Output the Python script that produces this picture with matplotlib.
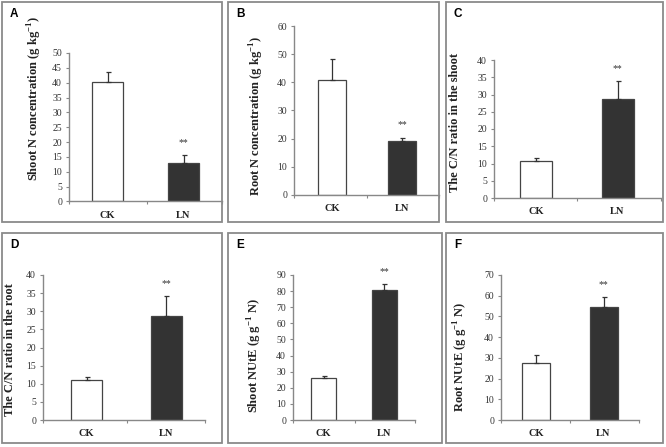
import matplotlib
matplotlib.use('Agg')
import matplotlib.pyplot as plt
from matplotlib.patches import Rectangle
from matplotlib.ticker import MultipleLocator

plt.rcParams['font.family'] = ['Liberation Serif', 'DejaVu Serif']
plt.rcParams['mathtext.fontset'] = 'custom'
plt.rcParams['mathtext.rm'] = 'Liberation Serif'
plt.rcParams['mathtext.bf'] = 'Liberation Serif:bold'

categories = ['CK', 'LN']
panel_letters = ['A', 'B', 'C', 'D', 'E', 'F']
ylabels = [
    r'Shoot N concentration (g kg$^{\mathbf{-1}}$)',
    r'Root N concentration (g kg$^{\mathbf{-1}}$)',
    'The C/N ratio in the shoot',
    'The C/N ratio in the root',
    r'Shoot NUtE (g g$^{\mathbf{-1}}$ N)',
    r'Root NUtE (g g$^{\mathbf{-1}}$ N)',
]
shoot_n = [40.3, 13.0]
shoot_n_err = [3.2, 2.5]
root_n = [41.0, 19.0]
root_n_err = [7.2, 1.4]
cn_shoot = [10.8, 28.7]
cn_shoot_err = [0.9, 5.3]
cn_root = [11.0, 28.6]
cn_root_err = [0.8, 5.5]
shoot_nute = [25.8, 80.7]
shoot_nute_err = [1.7, 3.5]
root_nute = [27.5, 54.6]
root_nute_err = [3.8, 4.6]
y_max = [50, 60, 40, 40, 90, 70]
y_step = [5, 10, 5, 5, 10, 10]

values = [shoot_n, root_n, cn_shoot, cn_root, shoot_nute, root_nute]
errors = [shoot_n_err, root_n_err, cn_shoot_err, cn_root_err, shoot_nute_err, root_nute_err]

W, H = 666, 447
fig = plt.figure(figsize=(W / 100, H / 100), dpi=100)

# layout in pixels: frame box, axis left/right, CK/LN centres, mid tick, y top/bottom, bar width
frames = [(2, 2, 222, 222), (228, 2, 439, 222), (446, 2, 663, 222),
          (2, 233, 222, 443), (228, 233, 442, 443), (446, 233, 663, 443)]
axis_x = [(69, 222), (294, 439), (494, 661), (43, 205), (293, 415), (501, 639)]
centres = [(107.5, 183.5), (332, 402), (536, 617.5), (86.5, 166), (323.5, 384), (536, 603.5)]
mids = [147, 367, 577, 127, 355, 570]
axis_y = [(53, 201.5), (26, 195), (60, 198), (275, 420), (275, 420), (275, 420)]
bar_px = [31, 28, 32, 31, 25, 28]
label_pos = [(44.5, 99), (265.5, 116), (461, 122.5), (16, 350), (264, 355.5), (470, 357)]

for i in range(6):
    fx0, fy0, fx1, fy1 = frames[i]
    fig.add_artist(Rectangle((fx0 / W, 1 - fy1 / H), (fx1 - fx0) / W, (fy1 - fy0) / H,
                             transform=fig.transFigure, fill=False,
                             edgecolor='#8a8a8a', linewidth=1.3))
    fig.text((fx0 + 8) / W, 1 - (fy0 + 6) / H, panel_letters[i], ha='left', va='top',
             fontsize=8.5, fontweight='bold', family='Liberation Sans')

    L, R = axis_x[i]
    yt, yb = axis_y[i]
    ax = fig.add_axes([L / W, 1 - yb / H, (R - L) / W, (yb - yt) / H])
    c0, c1 = centres[i]
    unit = c1 - c0
    x0, x1 = (L - c0) / unit, (R - c0) / unit
    ax.set_xlim(x0, x1)
    ax.set_ylim(0, y_max[i])

    ax.bar([0, 1], values[i], width=bar_px[i] / unit, color=['white', '#333333'],
           edgecolor='#444444', linewidth=0.9, zorder=2)
    ax.errorbar([0, 1], values[i], yerr=[[0, 0], errors[i]], fmt='none',
                ecolor='#333333', elinewidth=0.9, capsize=1.8, capthick=0.9, zorder=3)
    star_i = 1
    ax.annotate('**', (1, values[i][star_i] + errors[i][star_i]), xytext=(0, 9),
                textcoords='offset points', ha='center', va='center',
                fontsize=7, color='#333333', annotation_clip=False)

    ax.set_xticks([x0, (mids[i] - c0) / unit, x1])
    ax.set_xticklabels([])
    ax.yaxis.set_major_locator(MultipleLocator(y_step[i]))
    for s in ['top', 'right']:
        ax.spines[s].set_visible(False)
    for s in ['left', 'bottom']:
        ax.spines[s].set_color('#888888')
        ax.spines[s].set_linewidth(1.0)
    ax.tick_params(axis='both', color='#888888', length=2.5, width=0.8,
                   labelsize=7, labelcolor='#333333', pad=2.5)
    ax.set_facecolor('none')

    for k, cat in enumerate(categories):
        ax.annotate(cat, (k, 0), xytext=(0, -10), textcoords='offset points',
                    ha='center', va='center', fontsize=7.5, fontweight='bold',
                    color='#222222', annotation_clip=False)

    lx, ly = label_pos[i]
    ax.set_ylabel(ylabels[i], fontsize=9, fontweight='bold', color='#222222')
    ax.yaxis.set_label_coords((lx - L) / (R - L), (yb - ly) / (yb - yt))

fig.savefig('out.png', dpi=100)
